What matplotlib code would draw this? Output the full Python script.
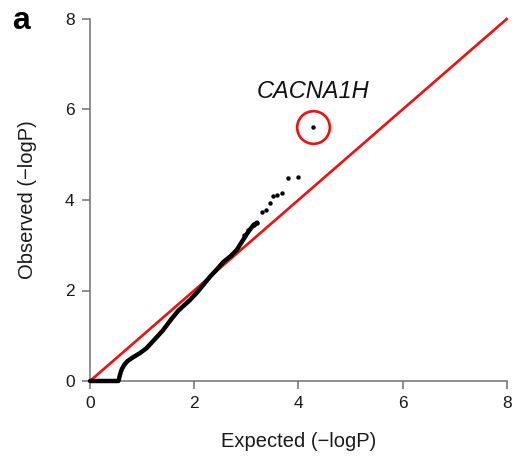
import matplotlib
matplotlib.use("Agg")
import matplotlib.pyplot as plt

plt.rcParams['font.family'] = ['Liberation Sans', 'DejaVu Sans']

# Dense part of the QQ curve (expected, observed -log10 P)
curve_expected = [0.0, 0.544, 0.56, 0.576, 0.61, 0.66, 0.72, 0.82, 0.95, 1.08,
                  1.25, 1.40, 1.57, 1.70, 1.92, 2.05, 2.18, 2.30, 2.43, 2.56,
                  2.70, 2.82, 2.94, 3.04, 3.14, 3.21]
curve_observed = [0.0, 0.0, 0.06, 0.14, 0.26, 0.36, 0.44, 0.52, 0.61, 0.72,
                  0.93, 1.12, 1.38, 1.56, 1.79, 1.95, 2.13, 2.30, 2.46, 2.63,
                  2.76, 2.90, 3.12, 3.30, 3.45, 3.50]

# Sparse tail points
tail_expected = [2.95, 3.04, 3.14, 3.21, 3.30, 3.37, 3.45, 3.51, 3.59, 3.69, 3.81, 3.99, 4.28]
tail_observed = [3.23, 3.34, 3.45, 3.50, 3.74, 3.78, 3.93, 4.09, 4.11, 4.15, 4.48, 4.51, 5.61]

# Highlighted gene
hit_gene = "CACNA1H"
hit_expected = 4.28
hit_observed = 5.61

ticks = [0, 2, 4, 6, 8]
axis_min, axis_max = 0, 8

W, H = 518, 463
fig = plt.figure(figsize=(W / 100, H / 100), dpi=100)
ax = fig.add_axes([90 / W, (463 - 381) / H, 416.7 / W, 362 / H])

# reference diagonal
ax.plot([axis_min, axis_max], [axis_min, axis_max], color='#f01010', lw=1.9,
        zorder=2, clip_on=False)

# dense curve
ax.plot(curve_expected, curve_observed, color='black', lw=3.2,
        solid_capstyle='round', solid_joinstyle='round', zorder=3, clip_on=False)
# tail points
ax.plot(tail_expected, tail_observed, linestyle='none', marker='o', ms=3.2,
        color='black', mec='none', zorder=3, clip_on=False)

# circle around hit
ax.plot([hit_expected], [hit_observed], linestyle='none', marker='o', ms=23.5,
        mfc='none', mec='#f01010', mew=1.9, zorder=4, clip_on=False)
ax.text(hit_expected + 0.01, 6.39, hit_gene, style='italic', fontsize=17,
        ha='center', va='center', color='#111111')

ax.set_xlim(axis_min, axis_max)
ax.set_ylim(axis_min, axis_max)
ax.set_xticks(ticks)
ax.set_yticks(ticks)
ax.set_xticklabels([str(t) for t in ticks])
ax.set_yticklabels([str(t) for t in ticks])

for side in ['top', 'right']:
    ax.spines[side].set_visible(False)
for side in ['left', 'bottom']:
    ax.spines[side].set_color('#707070')
    ax.spines[side].set_linewidth(1.1)

ax.tick_params(axis='both', direction='out', length=6, width=1.1,
               color='#707070', labelsize=12.5, labelcolor='#1a1a1a', pad=5)

ax.set_xlabel('Expected (\u2212logP)', fontsize=14.5, color='#1a1a1a')
ax.set_ylabel('Observed (\u2212logP)', fontsize=14.5, color='#1a1a1a')
ax.xaxis.set_label_coords(0.5, -0.142)
ax.yaxis.set_label_coords(-0.128, 0.5)

fig.text(21 / W, 1 - 21 / H, 'a', fontsize=23, fontweight='bold',
         ha='center', va='center', color='black')

fig.savefig('out.png', dpi=100)
